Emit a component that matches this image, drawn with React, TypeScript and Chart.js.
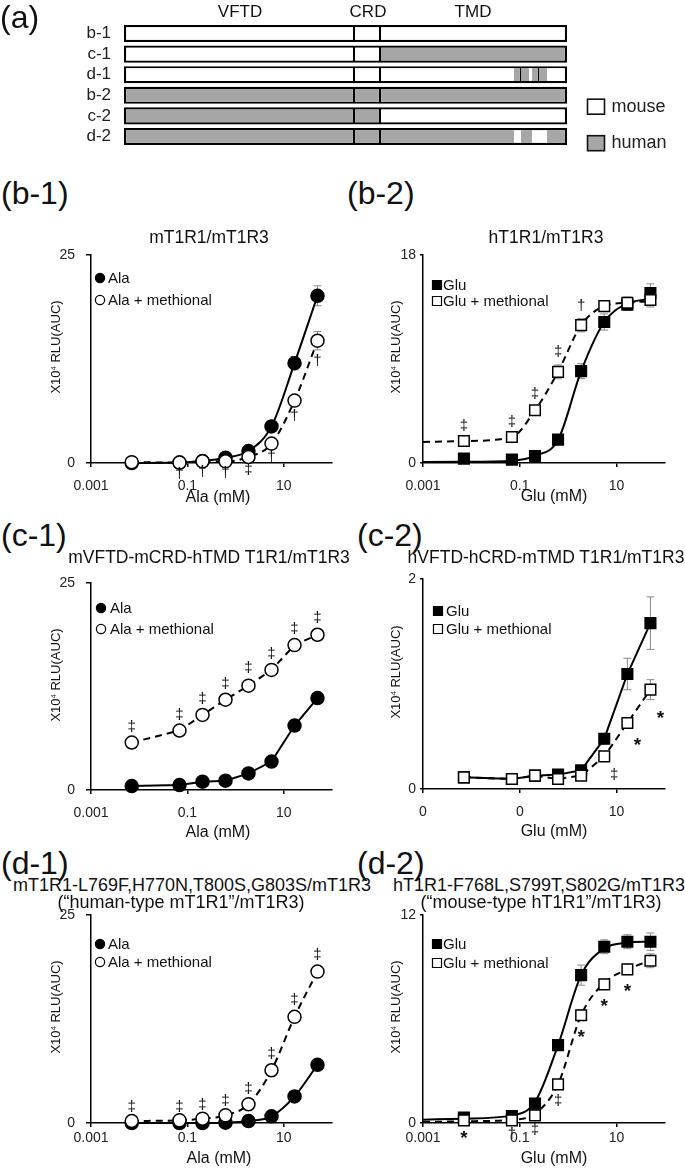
import { useEffect, useRef } from 'react';
import { Chart, registerables } from 'chart.js';

Chart.register(...registerables);

const FONT = '"Liberation Sans", Arial, Helvetica, sans-serif';
const MOUSE = '#ffffff';
const HUMAN = '#a6a6a6';

// ---------- (a) schematic data ----------
const constructs = ['b-1', 'c-1', 'd-1', 'b-2', 'c-2', 'd-2'];
const segmentNames = ['VFTD', 'CRD', 'TMD', 'TM site 1', 'TM site 2', 'TM gap', 'TM site 3', 'TM site 4', 'C-term'];
const segmentLengths = [230, 26, 134, 7, 8, 3, 7, 8, 20];
const originB1 = ['m', 'm', 'm', 'm', 'm', 'm', 'm', 'm', 'm'];
const originC1 = ['m', 'm', 'h', 'h', 'h', 'h', 'h', 'h', 'h'];
const originD1 = ['m', 'm', 'm', 'h', 'h', 'm', 'h', 'h', 'm'];
const originB2 = ['h', 'h', 'h', 'h', 'h', 'h', 'h', 'h', 'h'];
const originC2 = ['h', 'h', 'm', 'm', 'm', 'm', 'm', 'm', 'm'];
const originD2 = ['h', 'h', 'h', 'm', 'h', 'h', 'm', 'm', 'h'];
const domainHeaders = ['VFTD', 'CRD', 'TMD'];
const originLegend = ['mouse', 'human'];

// ---------- dose-response data ----------
const conc = [0.007, 0.0686, 0.206, 0.617, 1.85, 5.56, 16.7, 50];
const fitConc = [0.001, 0.007, 0.0686, 0.206, 0.617, 1.85, 5.56, 16.7, 50];
const xTickValues = [0.001, 0.1, 10];
const xTickLabels = ['0.001', '0.1', '10'];
const xTickLabelsC2 = ['0', '0', '10'];

// (b-1) mT1R1/mT1R3
const b1Max = 25;
const b1Ala = [0.0, 0.05, 0.24, 0.64, 1.44, 4.4, 12.0, 20.1];
const b1AlaErr = [0, 0, 0.1, 0.1, 0.2, 0.3, 0.8, 1.2];
const b1Meth = [0.1, 0.05, 0.2, 0.2, 0.72, 2.33, 7.5, 14.7];
const b1MethErr = [0, 0, 0, 0.1, 0.2, 0.3, 0.5, 1.1];
const b1Marks = ['', '†', '†', '†', '‡', '†', '†', '†'];

// (b-2) hT1R1/mT1R3
const b2Max = 18;
const b2Glu = [0.38, 0.29, 0.61, 2.02, 7.95, 12.2, 13.7, 14.7];
const b2GluErr = [0.1, 0.1, 0.1, 0.2, 0.65, 0.7, 0.5, 0.8];
const b2GluFit = [0.09, 0.1, 0.2, 0.62, 2.0, 7.95, 12.2, 13.8, 14.2];
const b2Meth = [1.91, 2.25, 4.56, 7.89, 11.93, 13.58, 13.87, 14.1];
const b2MethErr = [0.2, 0.2, 0.3, 0.6, 0.58, 0.4, 0.5, 0.6];
const b2MethFit = [1.82, 1.9, 2.25, 4.56, 7.89, 11.93, 13.58, 13.87, 14.0];
const b2Marks = ['‡', '‡', '‡', '‡', '†', '', '', ''];

// (c-1) mVFTD-mCRD-hTMD T1R1/mT1R3
const c1Max = 25;
const c1Ala = [0.48, 0.6, 1.0, 1.13, 2.0, 3.43, 7.78, 11.1];
const c1AlaErr = [0.1, 0.1, 0.1, 0.1, 0.2, 0.2, 0.3, 0.3];
const c1Meth = [5.73, 7.18, 9.07, 10.9, 12.6, 14.5, 17.5, 18.75];
const c1MethErr = [0.3, 0.3, 0.4, 0.3, 0.6, 0.4, 0.4, 0.5];
const c1Marks = ['‡', '‡', '‡', '‡', '‡', '‡', '‡', '‡'];

// (c-2) hVFTD-hCRD-mTMD T1R1/mT1R3
const c2Max = 2;
const c2Glu = [0.111, 0.095, 0.127, 0.137, 0.178, 0.479, 1.095, 1.58];
const c2GluErr = [0.01, 0.01, 0.01, 0.01, 0.02, 0.05, 0.15, 0.25];
const c2Meth = [0.111, 0.095, 0.127, 0.095, 0.127, 0.311, 0.629, 0.946];
const c2MethErr = [0.01, 0.01, 0.01, 0.01, 0.02, 0.03, 0.04, 0.095];
const c2Marks = ['', '', '', '', '', '‡', '*', '*'];

// (d-1) human-type mT1R1/mT1R3
const d1Max = 25;
const d1Ala = [0, 0, 0, 0.04, 0.24, 0.8, 3.2, 7.0];
const d1AlaErr = [0, 0, 0, 0, 0.05, 0.1, 0.2, 0.4];
const d1Meth = [0.24, 0.32, 0.52, 0.92, 2.25, 6.34, 12.76, 18.2];
const d1MethErr = [0.1, 0.1, 0.1, 0.2, 0.3, 0.4, 0.5, 0.4];
const d1Marks = ['‡', '‡', '‡', '‡', '‡', '‡', '‡', '‡'];

// (d-2) mouse-type hT1R1/mT1R3
const d2Max = 12;
const d2Glu = [0.31, 0.4, 1.12, 4.49, 8.53, 10.17, 10.46, 10.46];
const d2GluErr = [0.05, 0.05, 0.1, 0.2, 0.58, 0.4, 0.4, 0.5];
const d2GluFit = [0.19, 0.25, 0.44, 1.21, 4.49, 8.53, 10.07, 10.4, 10.46];
const d2Meth = [0.15, 0.15, 0.44, 2.23, 6.22, 8.0, 8.86, 9.36];
const d2MethErr = [0.05, 0.05, 0.1, 0.2, 0.3, 0.3, 0.3, 0.4];
const d2MethFit = [0.06, 0.1, 0.19, 0.54, 2.23, 6.22, 8.09, 8.86, 9.36];
const d2Marks = ['*', '†', '‡', '‡', '*', '*', '*', ''];

// ---------- types ----------
type Series = {
  label: string;
  ys: number[];
  err: number[];
  filled: boolean;
  shape: 'circle' | 'rect';
  dashed: boolean;
  fit?: number[];
  marks?: string[];
};

type Panel = {
  left: number;
  top: number;
  width: number;
  height: number;
  pad: { left: number; right: number; top: number; bottom: number };
  yWidth: number;
  xHeight: number;
  yMax: number;
  xLabels: string[];
  smooth: boolean;
  series: Series[];
  mark: { dir: 'above' | 'below'; gap: number; dx: number };
  legend: { mx: number; tx: number; ys: number[] };
  xTickPad: number;
  yTickPad: number;
  yTickLen: number;
};

const LEFT = { left: 0, width: 342, padL: 91, padR: 10, yTickPad: 11, yTickLen: 5 };
const RIGHT = { left: 342, width: 343, padL: 81, padR: 20, yTickPad: 4, yTickLen: 3 };

const mk = (col: typeof LEFT, top: number, plotTop: number, plotBottom: number, height: number) => ({
  left: col.left,
  top,
  width: col.width,
  height,
  pad: { left: 0, right: col.padR, top: plotTop - top, bottom: 0 },
  yWidth: col.padL,
  xHeight: top + height - plotBottom,
  yTickPad: col.yTickPad,
  yTickLen: col.yTickLen,
});

const panels: Panel[] = [
  {
    ...mk(LEFT, 235, 255, 463, 275),
    yMax: b1Max, xLabels: xTickLabels, smooth: true, xTickPad: 11,
    series: [
      { label: 'Ala', ys: b1Ala, err: b1AlaErr, filled: true, shape: 'circle', dashed: false },
      { label: 'Ala + methional', ys: b1Meth, err: b1MethErr, filled: false, shape: 'circle', dashed: true, marks: b1Marks },
    ],
    mark: { dir: 'below', gap: 11, dx: 0 },
    legend: { mx: 9, tx: 17, ys: [23, 45] },
  },
  {
    ...mk(RIGHT, 235, 255, 463, 275),
    yMax: b2Max, xLabels: xTickLabels, smooth: true, xTickPad: 11,
    series: [
      { label: 'Glu', ys: b2Glu, err: b2GluErr, filled: true, shape: 'rect', dashed: false, fit: b2GluFit },
      { label: 'Glu + methional', ys: b2Meth, err: b2MethErr, filled: false, shape: 'rect', dashed: true, fit: b2MethFit, marks: b2Marks },
    ],
    mark: { dir: 'above', gap: 13, dx: 0 },
    legend: { mx: 14, tx: 20, ys: [30, 46] },
  },
  {
    ...mk(LEFT, 563, 583, 790, 275),
    yMax: c1Max, xLabels: xTickLabels, smooth: false, xTickPad: 11,
    series: [
      { label: 'Ala', ys: c1Ala, err: c1AlaErr, filled: true, shape: 'circle', dashed: false },
      { label: 'Ala + methional', ys: c1Meth, err: c1MethErr, filled: false, shape: 'circle', dashed: true, marks: c1Marks },
    ],
    mark: { dir: 'above', gap: 13, dx: 0 },
    legend: { mx: 10, tx: 19, ys: [25, 46] },
  },
  {
    ...mk(RIGHT, 559, 579, 789, 275),
    yMax: c2Max, xLabels: xTickLabelsC2, smooth: false, xTickPad: 11,
    series: [
      { label: 'Glu', ys: c2Glu, err: c2GluErr, filled: true, shape: 'rect', dashed: false },
      { label: 'Glu + methional', ys: c2Meth, err: c2MethErr, filled: false, shape: 'rect', dashed: true, marks: c2Marks },
    ],
    mark: { dir: 'below', gap: 15, dx: 10 },
    legend: { mx: 15, tx: 23, ys: [32, 50] },
  },
  {
    ...mk(LEFT, 895, 915, 1123, 275),
    yMax: d1Max, xLabels: xTickLabels, smooth: true, xTickPad: 3,
    series: [
      { label: 'Ala', ys: d1Ala, err: d1AlaErr, filled: true, shape: 'circle', dashed: false },
      { label: 'Ala + methional', ys: d1Meth, err: d1MethErr, filled: false, shape: 'circle', dashed: true, marks: d1Marks },
    ],
    mark: { dir: 'above', gap: 13, dx: 0 },
    legend: { mx: 9, tx: 17, ys: [29, 47] },
  },
  {
    ...mk(RIGHT, 895, 915, 1123, 275),
    yMax: d2Max, xLabels: xTickLabels, smooth: true, xTickPad: 3,
    series: [
      { label: 'Glu', ys: d2Glu, err: d2GluErr, filled: true, shape: 'rect', dashed: false, fit: d2GluFit },
      { label: 'Glu + methional', ys: d2Meth, err: d2MethErr, filled: false, shape: 'rect', dashed: true, fit: d2MethFit, marks: d2Marks },
    ],
    mark: { dir: 'below', gap: 13, dx: 0 },
    legend: { mx: 14, tx: 20, ys: [29, 48] },
  },
];

function makePanel(canvas: HTMLCanvasElement, p: Panel) {
  const datasets: any[] = [];
  p.series.forEach((s, si) => {
    if (s.fit) {
      datasets.push({
        label: s.label + ' (fit)',
        data: fitConc.map((x, i) => ({ x, y: (s.fit as number[])[i] })),
        borderColor: '#000',
        borderWidth: 2,
        borderDash: s.dashed ? [7, 5] : [],
        pointRadius: 0,
        cubicInterpolationMode: 'monotone',
        fill: false,
        clip: false,
        order: 10 + si,
      });
    }
    datasets.push({
      label: s.label,
      data: conc.map((x, i) => ({ x, y: s.ys[i] })),
      showLine: !s.fit,
      borderColor: '#000',
      borderWidth: 2,
      borderDash: s.dashed ? [7, 5] : [],
      pointStyle: s.shape,
      pointRadius: s.shape === 'rect' ? 7.5 : 6.5,
      pointBackgroundColor: s.filled ? '#000' : '#fff',
      pointBorderColor: '#000',
      pointBorderWidth: 1.5,
      cubicInterpolationMode: p.smooth ? 'monotone' : 'default',
      tension: 0,
      fill: false,
      clip: false,
      order: s.filled ? 1 : 0,
    });
  });

  const extras = {
    id: 'panelExtras',
    beforeDatasetsDraw(chart: any) {
      const ctx = chart.ctx;
      const xs = chart.scales.x;
      const ys = chart.scales.y;
      ctx.save();
      ctx.strokeStyle = '#8a8a8a';
      ctx.lineWidth = 1;
      p.series.forEach((s) => {
        s.ys.forEach((v, i) => {
          const e = s.err[i];
          if (!e) return;
          const px = xs.getPixelForValue(conc[i]);
          const y1 = ys.getPixelForValue(v + e);
          const y2 = ys.getPixelForValue(Math.max(0, v - e));
          ctx.beginPath();
          ctx.moveTo(px, y1);
          ctx.lineTo(px, y2);
          ctx.moveTo(px - 4, y1);
          ctx.lineTo(px + 4, y1);
          ctx.moveTo(px - 4, y2);
          ctx.lineTo(px + 4, y2);
          ctx.stroke();
        });
      });
      ctx.restore();
    },
    afterDatasetsDraw(chart: any) {
      const ctx = chart.ctx;
      const xs = chart.scales.x;
      const ys = chart.scales.y;
      const area = chart.chartArea;
      ctx.save();
      ctx.fillStyle = '#111';
      ctx.textAlign = 'center';
      ctx.textBaseline = 'middle';
      p.series.forEach((s) => {
        if (!s.marks) return;
        s.marks.forEach((m, i) => {
          if (!m) return;
          const px = xs.getPixelForValue(conc[i]);
          const py = ys.getPixelForValue(s.ys[i]);
          const e = Math.abs(ys.getPixelForValue(0) - ys.getPixelForValue(s.err[i]));
          let y = p.mark.dir === 'above' ? py - p.mark.gap - e : py + p.mark.gap + e;
          if (m === '*') {
            ctx.font = `bold 19px ${FONT}`;
            y += 4;
          } else {
            ctx.font = `15px ${FONT}`;
          }
          ctx.fillText(m, px + p.mark.dx, y);
        });
      });
      // legend inside plot
      ctx.textAlign = 'left';
      ctx.font = `15px ${FONT}`;
      p.series.forEach((s, i) => {
        const cx = area.left + p.legend.mx;
        const cy = area.top + p.legend.ys[i];
        ctx.fillStyle = s.filled ? '#000' : '#fff';
        ctx.strokeStyle = '#000';
        ctx.lineWidth = 1.2;
        ctx.beginPath();
        if (s.shape === 'circle') ctx.arc(cx, cy, 4.6, 0, Math.PI * 2);
        else ctx.rect(cx - 4.5, cy - 4.5, 9, 9);
        ctx.fill();
        ctx.stroke();
        ctx.fillStyle = '#111';
        ctx.fillText(s.label, area.left + p.legend.tx, cy + 1);
      });
      ctx.restore();
    },
  };

  return new Chart(canvas, {
    type: 'line',
    data: { datasets },
    options: {
      responsive: false,
      animation: false,
      events: [],
      layout: { padding: p.pad },
      plugins: { legend: { display: false }, tooltip: { enabled: false } },
      scales: {
        x: {
          type: 'logarithmic',
          min: 0.001,
          max: 100,
          afterFit: (s: any) => {
            s.height = p.xHeight;
          },
          afterBuildTicks: (s: any) => {
            s.ticks = xTickValues.map((v) => ({ value: v }));
          },
          ticks: {
            callback: (_v: any, i: number) => p.xLabels[i],
            font: { family: FONT, size: 14 },
            color: '#222',
            padding: p.xTickPad,
            maxRotation: 0,
            autoSkip: false,
          },
          grid: { drawOnChartArea: false, tickLength: 4, color: '#000', lineWidth: 1.5 },
          border: { color: '#000', width: 1.5 },
        },
        y: {
          type: 'linear',
          min: 0,
          max: p.yMax,
          afterFit: (s: any) => {
            s.width = p.yWidth;
          },
          afterBuildTicks: (s: any) => {
            s.ticks = [{ value: 0 }, { value: p.yMax }];
          },
          ticks: {
            callback: (v: any) => String(v),
            font: { family: FONT, size: 14 },
            color: '#222',
            padding: p.yTickPad,
          },
          grid: { drawOnChartArea: false, tickLength: p.yTickLen, color: '#000', lineWidth: 1.5 },
          border: { color: '#000', width: 1.5 },
        },
      },
    } as any,
    plugins: [extras],
  });
}

function makeSchematic(canvas: HTMLCanvasElement) {
  const rows = [originB1, originC1, originD1, originB2, originC2, originD2];
  const last = segmentLengths.length - 1;
  const total = segmentLengths.reduce((a, b) => a + b, 0);
  const datasets = segmentLengths.map((len, si) => {
    let left = 0;
    let right = 0;
    if (si === 0) { left = 2.2; right = 1.1; }
    if (si === 1) { left = 1.1; right = 1.1; }
    if (si === 2) { left = 1.1; }
    if (si === last) { right = 2.2; }
    return {
      label: segmentNames[si],
      data: constructs.map(() => len),
      backgroundColor: rows.map((r) => (r[si] === 'h' ? HUMAN : MOUSE)),
      borderColor: '#000',
      borderSkipped: false,
      inflateAmount: 0,
      borderWidth: constructs.map((_, row) => ({
        top: 2.2,
        bottom: 2.2,
        left,
        right: row === 2 && (si === 3 || si === 6) ? 1.2 : right,
      })),
      barPercentage: 0.83,
      categoryPercentage: 1,
    };
  });

  const legendPlugin = {
    id: 'originLegend',
    afterDraw(chart: any) {
      const ctx = chart.ctx;
      const area = chart.chartArea;
      ctx.save();
      const colors = [MOUSE, HUMAN];
      const centers = [103.5, 140];
      originLegend.forEach((name, i) => {
        const x = area.right + 20.5;
        const cy = chart.chartArea.top - 20 + centers[i];
        ctx.fillStyle = colors[i];
        ctx.strokeStyle = '#111';
        ctx.lineWidth = 1.6;
        ctx.fillRect(x, cy - 7.5, 17, 15);
        ctx.strokeRect(x, cy - 7.5, 17, 15);
        ctx.fillStyle = '#222';
        ctx.font = `18px ${FONT}`;
        ctx.textAlign = 'left';
        ctx.textBaseline = 'middle';
        ctx.fillText(name, x + 24, cy);
      });
      ctx.restore();
    },
  };

  return new Chart(canvas, {
    type: 'bar',
    data: { labels: constructs, datasets },
    options: {
      indexAxis: 'y',
      responsive: false,
      animation: false,
      events: [],
      layout: { padding: { left: 0, right: 118, top: 20, bottom: 14 } },
      plugins: { legend: { display: false }, tooltip: { enabled: false } },
      scales: {
        x: { type: 'linear', stacked: true, min: 0, max: total, display: false },
        y: {
          type: 'category',
          stacked: true,
          afterFit: (s: any) => {
            s.width = 124;
          },
          grid: { display: false, drawTicks: false },
          border: { display: false },
          ticks: { font: { family: FONT, size: 17 }, color: '#222', padding: 13, autoSkip: false },
        },
      },
    } as any,
    plugins: [legendPlugin],
  });
}

function Txt(props: {
  x: number;
  y: number;
  size: number;
  children: any;
  align?: 'left' | 'center';
  rotate?: boolean;
}) {
  const { x, y, size, children, align = 'center', rotate = false } = props;
  let transform = align === 'center' ? 'translate(-50%, -50%)' : 'translate(0, -50%)';
  if (rotate) transform = 'translate(-50%, -50%) rotate(-90deg)';
  return (
    <div
      style={{
        position: 'absolute',
        left: x,
        top: y,
        fontSize: size,
        lineHeight: 1,
        whiteSpace: 'nowrap',
        transform,
        color: '#111',
        pointerEvents: 'none',
      }}
    >
      {children}
    </div>
  );
}

const yTitle = (
  <span>
    X10<sup style={{ fontSize: '0.6em', verticalAlign: '0.45em' }}>4</sup> RLU(AUC)
  </span>
);

export default function App() {
  const schemRef = useRef<HTMLCanvasElement | null>(null);
  const panelRefs = useRef<(HTMLCanvasElement | null)[]>([]);

  useEffect(() => {
    const charts: Chart[] = [];
    if (schemRef.current) charts.push(makeSchematic(schemRef.current));
    panels.forEach((p, i) => {
      const c = panelRefs.current[i];
      if (c) charts.push(makePanel(c, p));
    });
    return () => charts.forEach((c) => c.destroy());
  }, []);

  const centersY = panels.map((p) => p.top + p.pad.top + (p.height - p.pad.top - p.xHeight) / 2 - 12);

  return (
    <div
      style={{
        position: 'absolute',
        left: 0,
        top: 0,
        width: 685,
        height: 1174,
        overflow: 'hidden',
        background: '#fff',
        fontFamily: FONT,
      }}
    >
      <canvas
        ref={schemRef}
        width={685}
        height={170}
        style={{ position: 'absolute', left: 0, top: 0, width: 685, height: 170 }}
      />
      {panels.map((p, i) => (
        <canvas
          key={i}
          ref={(el) => {
            panelRefs.current[i] = el;
          }}
          width={p.width}
          height={p.height}
          style={{ position: 'absolute', left: p.left, top: p.top, width: p.width, height: p.height }}
        />
      ))}

      {/* (a) */}
      <Txt x={0} y={17} size={32} align="left">(a)</Txt>
      <Txt x={240} y={11} size={17}>{domainHeaders[0]}</Txt>
      <Txt x={368} y={11} size={17}>{domainHeaders[1]}</Txt>
      <Txt x={473} y={11} size={17}>{domainHeaders[2]}</Txt>

      {/* panel labels */}
      <Txt x={1} y={193} size={32} align="left">(b-1)</Txt>
      <Txt x={347} y={193} size={32} align="left">(b-2)</Txt>
      <Txt x={1} y={535} size={32} align="left">(c-1)</Txt>
      <Txt x={357} y={535} size={32} align="left">(c-2)</Txt>
      <Txt x={1} y={863} size={32} align="left">(d-1)</Txt>
      <Txt x={357} y={863} size={32} align="left">(d-2)</Txt>

      {/* titles */}
      <Txt x={209} y={238} size={17.5}>mT1R1/mT1R3</Txt>
      <Txt x={546} y={238} size={17.5}>hT1R1/mT1R3</Txt>
      <Txt x={209} y={558} size={17.5}>mVFTD-mCRD-hTMD T1R1/mT1R3</Txt>
      <Txt x={546} y={558} size={17.5}>hVFTD-hCRD-mTMD T1R1/mT1R3</Txt>
      <Txt x={192} y={885} size={18}>mT1R1-L769F,H770N,T800S,G803S/mT1R3</Txt>
      <Txt x={181} y={902} size={18}>(“human-type mT1R1”/mT1R3)</Txt>
      <Txt x={539} y={885} size={18}>hT1R1-F768L,S799T,S802G/mT1R3</Txt>
      <Txt x={541} y={902} size={18}>(“mouse-type hT1R1”/mT1R3)</Txt>

      {/* y titles */}
      <Txt x={55} y={centersY[0]} size={13} rotate>{yTitle}</Txt>
      <Txt x={395} y={centersY[1]} size={13} rotate>{yTitle}</Txt>
      <Txt x={55} y={centersY[2]} size={13} rotate>{yTitle}</Txt>
      <Txt x={395} y={centersY[3]} size={13} rotate>{yTitle}</Txt>
      <Txt x={55} y={centersY[4]} size={13} rotate>{yTitle}</Txt>
      <Txt x={395} y={centersY[5]} size={13} rotate>{yTitle}</Txt>

      {/* x titles */}
      <Txt x={218} y={497} size={16}>Ala (mM)</Txt>
      <Txt x={554} y={496} size={16}>Glu (mM)</Txt>
      <Txt x={218} y={832} size={16}>Ala (mM)</Txt>
      <Txt x={554} y={831} size={16}>Glu (mM)</Txt>
      <Txt x={219} y={1158} size={16}>Ala (mM)</Txt>
      <Txt x={554} y={1158} size={16}>Glu (mM)</Txt>
    </div>
  );
}
